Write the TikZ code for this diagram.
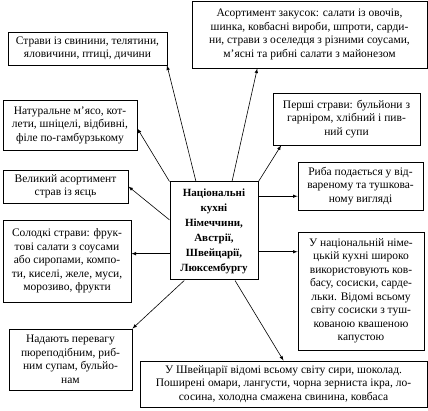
\documentclass[tikz,border=0pt]{standalone}
\usepackage{fontspec}
\setmainfont{Liberation Serif}
\begin{document}
\begin{tikzpicture}[
    x=1pt, y=-1pt,
    box/.style={draw, line width=0.8pt, align=center, inner sep=1pt,
        font=\fontsize{11.5}{13.5}\selectfont},
    arr/.style={draw, line width=0.6pt, -latex}
]
\useasboundingbox (0,0) rectangle (428,411);
\node[box, line width=1pt, minimum width=88, minimum height=98,
    font=\bfseries\fontsize{11}{15}\selectfont] (centre) at (214,231)
    {Національні\\ кухні\\ Німеччини,\\ Австрії,\\ Швейцарії,\\ Люксембургу};
\node[box, minimum width=159, minimum height=33] (meat) at (87.5,48.5)
    {Страви із свинини, телятини,\\ яловичини, птиці, дичини};
\node[box, minimum width=235, minimum height=67] (snacks) at (309.5,34.5)
    {Асортимент закусок: салати із овочів,\\ шинка, ковбасні вироби, шпроти, сарди-\\ни, страви з оселедця з різними соусами,\\ м’ясні та рибні салати з майонезом};
\node[box, minimum width=134, minimum height=50] (cutlets) at (70,125)
    {Натуральне м’ясо, кот-\\лети, шніцелі, відбивні,\\ філе по-гамбурзькому};
\node[box, minimum width=147, minimum height=52] (soups) at (346.5,119)
    {Перші страви: бульйони з\\ гарніром, хлібний і пив-\\ний супи};
\node[box, minimum width=125, minimum height=33] (eggs) at (65.5,186.5)
    {Великий асортимент\\ страв із яєць};
\node[box, minimum width=125, minimum height=48] (fish) at (360.5,186)
    {Риба подається у від-\\вареному та тушкова-\\ному вигляді};
\node[box, minimum width=128, minimum height=82] (sweets) at (67,261)
    {Солодкі страви: фрук-\\тові салати з соусами\\ або сиропами, компо-\\ти, киселі, желе, муси,\\ морозиво, фрукти};
\node[box, minimum width=126, minimum height=118] (sausages) at (361,291)
    {У національній німе-\\цькій кухні широко\\ використовують ков-\\басу, сосиски, сарде-\\льки. Відомі всьому\\ світу сосиски з туш-\\кованою квашеною\\ капустою};
\node[box, minimum width=123, minimum height=61] (puree) at (70.5,359.5)
    {Надають перевагу\\ пюреподібним, риб-\\ним супам, бульйо-\\нам};
\node[box, minimum width=287, minimum height=46] (swiss) at (283.5,384)
    {У Швейцарії відомі всьому світу сири, шоколад.\\ Поширені омари, лангусти, чорна зерниста ікра, ло-\\сосина, холодна смажена свинина, ковбаса};
\draw[arr] (centre.110) -- (meat.-12);
\draw[arr] (centre.70) -- (snacks.-147);
\draw[arr] (centre.north west) -- (cutlets.-3);
\draw[arr] (centre.north east) -- (soups.-158);
\draw[arr] (centre.166) -- (eggs.east);
\draw[arr] (centre.38) -- (centre.38 -| fish.west);
\draw[arr] (centre.-153) -- (centre.-153 -| sweets.east);
\draw[arr] (centre.-25) -- (centre.-25 -| sausages.west);
\draw[arr] (centre.-121) -- (puree.north east);
\draw[arr] (centre.-67) -- (swiss.north);
\end{tikzpicture}
\end{document}
